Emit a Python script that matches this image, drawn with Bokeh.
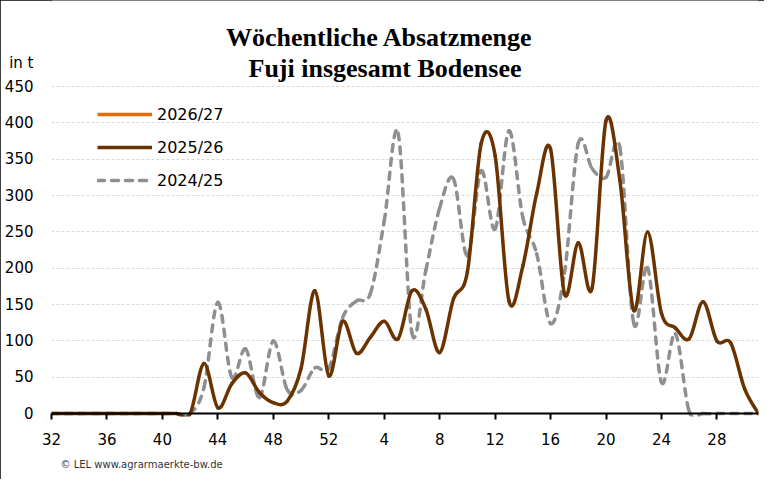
from bokeh.plotting import figure
from bokeh.models import Range1d, FixedTicker, Span, Label, Legend, LegendItem, Title
from bokeh.embed import file_html
from bokeh.resources import INLINE

# ---- data ----
weeks = list(range(32, 53)) + list(range(1, 32))
season_2025_26 = [0, 0, 0, 0, 0, 0, 0, 0, 0, 0, 0,
                  69, 8, 41, 56, 29, 15, 17, 62, 169, 52,
                  127, 83, 105, 127, 103, 169, 144, 84, 158, 195,
                  372, 355, 155, 203, 303, 364, 165, 235, 173, 403,
                  321, 142, 250, 138, 118, 103, 154, 100, 97, 34, 0]
season_2024_25 = [0, 0, 0, 0, 0, 0, 0, 0, 0, 0, 0,
                  36, 153, 50, 89, 22, 100, 33, 32, 63, 62,
                  132, 155, 165, 265, 386, 111, 197, 283, 323, 217,
                  334, 254, 389, 270, 220, 124, 193, 372, 337, 325,
                  366, 124, 201, 43, 110, 3, 0, 0, 0, 0, 0]
season_2026_27 = []
series_names = ["2026/27", "2025/26", "2024/25"]
tick_weeks = [32, 36, 40, 44, 48, 52, 4, 8, 12, 16, 20, 24, 28]
y_ticks = [0, 50, 100, 150, 200, 250, 300, 350, 400, 450]
title_lines = ["Wöchentliche Absatzmenge", "Fuji insgesamt Bodensee"]
unit_text = "in t"
source_text = "© LEL www.agrarmaerkte-bw.de"

ORANGE = "#E46C0A"
BROWN = "#6B3300"
GRAY = "#8F8F8F"
SANS = "DejaVu Sans"
SERIF = "Liberation Serif"
DASH = "7 7"

# ---- layout (pixels of the figure) ----
W, H = 764, 479
FRAME_L, FRAME_R, FRAME_B = 51, 758, 415.6
PX_PER_UNIT = 0.7267
Y_START = -4
UNIT_POS = 483           # where the "in t" caption sits on the value axis

mb_bottom = int(round(H - FRAME_B))
frame_h = H - mb_bottom
y_end = Y_START + frame_h / PX_PER_UNIT
FB = H - mb_bottom       # actual frame bottom

xs = list(range(len(weeks)))


def smooth_segments(x, y):
    """Cubic Bezier segments through the data points (Excel-style smoothing)."""
    n = len(x)
    out = dict(x0=[], y0=[], x1=[], y1=[], cx0=[], cy0=[], cx1=[], cy1=[])
    for i in range(n - 1):
        im, ip = max(i - 1, 0), min(i + 2, n - 1)
        out["x0"].append(x[i]); out["y0"].append(y[i])
        out["x1"].append(x[i + 1]); out["y1"].append(y[i + 1])
        out["cx0"].append(x[i] + (x[i + 1] - x[im]) / 6)
        out["cy0"].append(y[i] + (y[i + 1] - y[im]) / 6)
        out["cx1"].append(x[i + 1] - (x[ip] - x[i]) / 6)
        out["cy1"].append(y[i + 1] - (y[ip] - y[i]) / 6)
    return out


p = figure(width=W, height=H, output_backend="svg", toolbar_location=None,
           x_range=Range1d(0, len(weeks) - 1), y_range=Range1d(Y_START, y_end),
           min_border_left=FRAME_L, min_border_right=W - FRAME_R, min_border_top=0,
           min_border_bottom=mb_bottom)
p.styles = {"outline": "2px solid black", "outline-offset": "-2px"}
p.outline_line_color = None
p.background_fill_color = "white"
p.border_fill_color = "white"

# axes
tick_pos = [weeks.index(w) for w in tick_weeks]
p.xaxis.ticker = FixedTicker(ticks=tick_pos)
p.xaxis.major_label_overrides = {pos: str(w) for pos, w in zip(tick_pos, tick_weeks)}
p.xaxis.axis_line_color = None
p.xaxis.major_tick_in = 3
p.xaxis.major_tick_out = 3
p.xaxis.major_tick_line_width = 2
p.xaxis.major_tick_line_color = "black"
p.xaxis.minor_tick_line_color = None
p.xaxis.major_label_standoff = 13
p.xaxis.major_label_text_font = SANS
p.xaxis.major_label_text_font_size = "15px"
p.xaxis.major_label_text_color = "black"

p.yaxis.ticker = FixedTicker(ticks=y_ticks + [UNIT_POS])
p.yaxis.major_label_overrides = {UNIT_POS: unit_text}
p.yaxis.axis_line_color = None
p.yaxis.major_tick_line_color = None
p.yaxis.minor_tick_line_color = None
p.yaxis.major_tick_in = 0
p.yaxis.major_tick_out = 0
p.yaxis.major_label_standoff = 18
p.yaxis.major_label_text_font = SANS
p.yaxis.major_label_text_font_size = "15px"
p.yaxis.major_label_text_color = "black"

p.xgrid.visible = False
p.ygrid.ticker = FixedTicker(ticks=y_ticks[1:])
p.ygrid.grid_line_color = "#D9D9D9"
p.ygrid.grid_line_dash = "3 2"
p.ygrid.grid_line_width = 1

p.add_layout(Span(location=0, dimension="width", line_color="black", line_width=2))

# series
g = smooth_segments(xs, season_2024_25)
p.bezier(source=g, x0="x0", y0="y0", x1="x1", y1="y1", cx0="cx0", cy0="cy0", cx1="cx1", cy1="cy1",
         line_color=GRAY, line_width=3.5, line_dash=DASH, line_cap="round")
b = smooth_segments(xs, season_2025_26)
p.bezier(source=b, x0="x0", y0="y0", x1="x1", y1="y1", cx0="cx0", cy0="cy0", cx1="cx1", cy1="cy1",
         line_color=BROWN, line_width=3.5, line_cap="round")

# legend proxies (no visible data)
nan = float("nan")
r27 = p.line(x=season_2026_27 or [nan], y=season_2026_27 or [nan], line_color=ORANGE, line_width=3.5)
r26 = p.line(x=[nan], y=[nan], line_color=BROWN, line_width=3.5)
r25 = p.line(x=[nan], y=[nan], line_color=GRAY, line_width=3.5, line_dash=DASH, line_cap="round")
legend = Legend(items=[LegendItem(label=series_names[0], renderers=[r27]),
                       LegendItem(label=series_names[1], renderers=[r26]),
                       LegendItem(label=series_names[2], renderers=[r25])],
                location=(97 - FRAME_L, FB - 190.3), orientation="vertical",
                glyph_width=55, glyph_height=20, label_height=20, label_standoff=5,
                spacing=13, padding=0, margin=0, border_line_color=None,
                background_fill_alpha=0, label_text_font=SANS, label_text_font_size="16px",
                label_text_color="black")
p.add_layout(legend, "center")

# titles (positions relative to the plot frame)
p.add_layout(Label(x=379 - FRAME_L, y=FB - 37, x_units="screen", y_units="screen",
                   text=title_lines[0], text_align="center", text_baseline="alphabetic",
                   text_font=SERIF, text_font_style="bold", text_font_size="26px",
                   text_color="black"))
p.add_layout(Label(x=384.5 - FRAME_L, y=FB - 68, x_units="screen", y_units="screen",
                   text=title_lines[1], text_align="center", text_baseline="alphabetic",
                   text_font=SERIF, text_font_style="bold", text_font_size="26px",
                   text_color="black"))

# source line below the axis
p.add_layout(Title(text=source_text, align="left", offset=60 - FRAME_L, standoff=18,
                   text_font=SANS, text_font_size="10px", text_font_style="normal",
                   text_color="#333333"), "below")

open("out.html", "w").write(file_html(p, INLINE))
